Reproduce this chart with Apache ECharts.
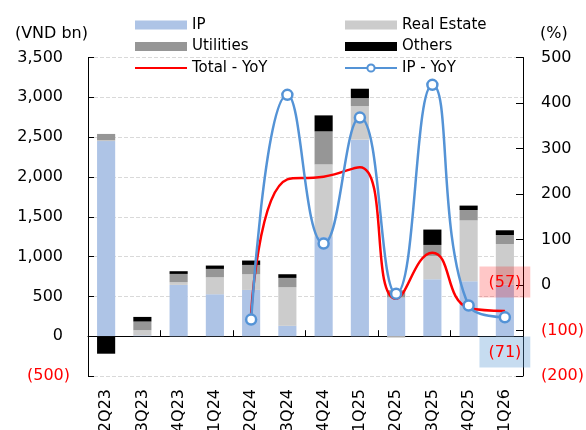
<!DOCTYPE html>
<html>
<head>
<meta charset="utf-8">
<script src="https://cdn.jsdelivr.net/npm/echarts@6/dist/echarts.min.js"></script>
<style>
  html, body { margin: 0; padding: 0; background: #fff; }
  #chart { width: 586px; height: 430px; }
</style>
</head>
<body>
<div id="chart"></div>
<script>
const categories = ['2Q23', '3Q23', '4Q23', '1Q24', '2Q24', '3Q24', '4Q24', '1Q25', '2Q25', '3Q25', '4Q25', '1Q26']

// VND bn, stacked
const ip = [2450, 10, 644, 527, 581, 130, 1246, 2468, 486, 715, 690, 650]
const realEstate = [10, 65, 34, 213, 197, 485, 912, 422, -20, 293, 765, 508]
const utilities = [80, 109, 104, 105, 117, 117, 414, 100, 91, 138, 130, 113]
const others = [-220, 58, 34, 42, 55, 46, 201, 118, 0, 193, 55, 59]

// %
const totalYoY = [null, null, null, null, -63, 232, 238, 259, -30, 71, -50, -57]
const ipYoY = [null, null, null, null, -76, 418, 91, 368, -19, 440, -45, -71]

const font = 'DejaVu Sans'
const red = '#ff0000'
const blue = '#5493d6'

const fmt = (v) => {
  const s = Math.abs(v).toLocaleString('en-US')
  return v < 0 ? '(' + s + ')' : s
}

// put the value box on the last point
const withLastLabel = (arr, position, bg, extra) => arr.map((v, i) => {
  if (i !== arr.length - 1) return v
  return Object.assign({
    value: v,
    label: {
      show: true,
      position: position,
      distance: 13,
      formatter: () => fmt(v),
      color: red,
      fontSize: 16,
      fontFamily: font,
      backgroundColor: bg,
      padding: [8, 9, 7, 9]
    }
  }, extra || {})
})

const chart = echarts.init(document.getElementById('chart'))

const barSeries = (name, data, color) => ({
  name: name,
  type: 'bar',
  stack: 'seg',
  barWidth: '50%',
  itemStyle: { color: color },
  data: data
})

const legendBase = {
  orient: 'vertical',
  top: 12.5,
  itemWidth: 52,
  itemHeight: 9,
  itemGap: 6.5,
  selectedMode: false,
  textStyle: { fontSize: 15, color: '#000', fontFamily: font }
}

chart.setOption({
  animation: false,
  textStyle: { fontFamily: font },
  legend: [
    Object.assign({}, legendBase, {
      left: 129,
      data: [
        { name: 'IP', icon: 'rect' },
        { name: 'Utilities', icon: 'rect' },
        { name: 'Total - YoY', itemStyle: { opacity: 0 } }
      ]
    }),
    Object.assign({}, legendBase, {
      left: 339,
      data: [
        { name: 'Real Estate', icon: 'rect' },
        { name: 'Others', icon: 'rect' },
        { name: 'IP - YoY' }
      ]
    })
  ],
  grid: {
    left: 88,
    right: 63,
    top: 57.5,
    bottom: 54,
    outerBoundsMode: 'none'
  },
  xAxis: [{
    type: 'category',
    data: categories,
    position: 'bottom',
    axisLine: { show: false, onZero: false },
    axisTick: { show: false },
    axisLabel: {
      rotate: 90,
      margin: 13,
      fontSize: 16,
      color: '#000',
      fontFamily: font,
      interval: 0
    }
  }, {
    type: 'category',
    data: categories,
    position: 'bottom',
    axisLine: { show: true, onZero: true, onZeroAxisIndex: 0, lineStyle: { color: '#000', width: 1 } },
    axisTick: { show: true, inside: true, length: 6, lineStyle: { color: '#000' } },
    axisLabel: { show: false }
  }],
  yAxis: [{
    type: 'value',
    min: -500,
    max: 3500,
    interval: 500,
    name: '(VND bn)',
    nameLocation: 'end',
    nameGap: 16,
    nameTextStyle: { fontSize: 16, color: '#000', align: 'right', fontFamily: font },
    axisLine: { show: true, lineStyle: { color: '#000' } },
    axisTick: { show: true, inside: true, length: 6, lineStyle: { color: '#000' } },
    splitLine: { show: true, lineStyle: { color: '#d9d9d9', type: 'dashed' } },
    axisLabel: {
      margin: 18,
      formatter: (v) => v < 0 ? '{n|' + fmt(v) + '}' : '{p|' + fmt(v) + '}',
      rich: {
        p: { fontSize: 16, color: '#000', fontFamily: font, padding: [0, 7, 0, 0] },
        n: { fontSize: 16, color: red, fontFamily: font }
      }
    }
  }, {
    type: 'value',
    min: -200,
    max: 500,
    interval: 100,
    name: '(%)',
    nameLocation: 'end',
    nameGap: 16,
    nameTextStyle: { fontSize: 16, color: '#000', align: 'left', padding: [0, 0, 0, 17], fontFamily: font },
    axisLine: { show: true, lineStyle: { color: '#000' } },
    axisTick: { show: true, inside: true, length: 7, lineStyle: { color: '#000' } },
    splitLine: { show: false },
    axisLabel: {
      margin: 18,
      fontSize: 16,
      fontFamily: font,
      formatter: fmt,
      color: (v) => Number(v) < 0 ? red : '#000'
    }
  }],
  series: [
    barSeries('IP', ip, '#aec4e6'),
    barSeries('Real Estate', realEstate, '#cccccc'),
    barSeries('Utilities', utilities, '#969696'),
    barSeries('Others', others, '#000000'),
    {
      name: 'Total - YoY',
      type: 'line',
      yAxisIndex: 1,
      smooth: 0.5,
      symbol: 'none',
      z: 5,
      lineStyle: { color: red, width: 2.5 },
      itemStyle: { color: red },
      data: withLastLabel(totalYoY, 'top', 'rgba(255,0,0,0.22)', { symbol: 'circle', symbolSize: 1 })
    },
    {
      name: 'IP - YoY',
      type: 'line',
      yAxisIndex: 1,
      smooth: 0.5,
      symbol: 'circle',
      symbolSize: 10,
      showAllSymbol: true,
      z: 6,
      lineStyle: { color: blue, width: 2.5 },
      itemStyle: { color: '#fff', borderColor: blue, borderWidth: 2.5 },
      data: withLastLabel(ipYoY, 'bottom', 'rgba(91,155,213,0.35)')
    }
  ]
})
</script>
</body>
</html>
